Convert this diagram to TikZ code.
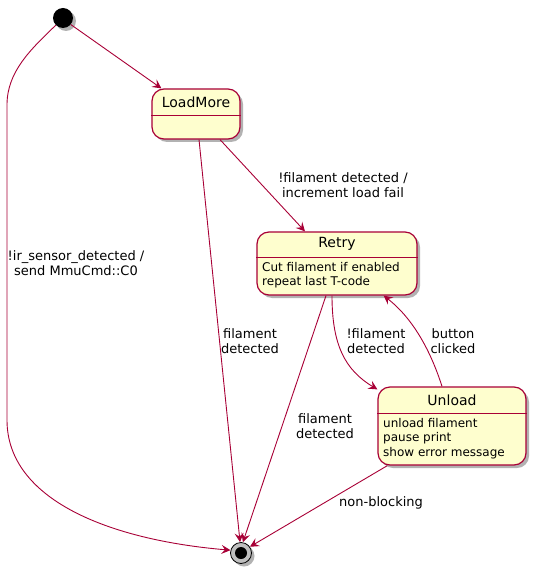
\documentclass[tikz,border=0pt]{standalone}
\usepackage{fontspec}
\setmainfont{DejaVu Sans}
\usetikzlibrary{arrows.meta,shadows,calc}
\definecolor{pred}{HTML}{A80036}
\definecolor{pfill}{HTML}{FEFECE}
\begin{document}
\begin{tikzpicture}[x=1bp,y=-1bp,
  shad/.style={drop shadow={shadow xshift=3bp,shadow yshift=-3bp,opacity=0.3,fill=black}},
  statebox/.style={draw=pred,fill=pfill,line width=1.2bp,rounded corners=12bp,shad,inner sep=0pt},
  title/.style={font=\fontsize{14bp}{16bp}\selectfont,inner sep=0pt},
  body/.style={font=\fontsize{12bp}{14.5bp}\selectfont,align=left,anchor=west,inner sep=0pt},
  lbl/.style={font=\fontsize{13bp}{14.7bp}\selectfont,align=center,inner sep=0pt},
  conn/.style={draw=pred,line width=0.9bp,-{Stealth[length=9bp,width=9bp,inset=3.5bp]}}
]
\useasboundingbox (0,0) rectangle (537,572);

% initial and final states
\node[circle,fill=black,minimum size=20bp,inner sep=0pt,shad] (st) at (63,18) {};
\node[circle,draw=black,line width=0.8bp,fill=black!25,minimum size=21bp,inner sep=0pt,shad] (en) at (241,553) {};
\fill[black] (en.center) circle (6bp);

% LoadMore
\node[statebox,minimum width=88bp,minimum height=50bp] (lm) at (196,114) {};
\coordinate (s1) at (0,115);
\coordinate (s1b) at (0,116.2);
\fill[pred] (lm.west |- s1) rectangle (lm.east |- s1b);
\node[title] (lmt) at (196,102) {LoadMore};

% Retry
\node[statebox,minimum width=160bp,minimum height=63bp] (re) at (337,263.5) {};
\coordinate (s2) at (0,257);
\coordinate (s2b) at (0,258.2);
\fill[pred] (re.west |- s2) rectangle (re.east |- s2b);
\node[title] (ret) at (337,244) {Retry};
\node[body] (reb) at (262,275) {Cut filament if enabled\\repeat last T-code};

% Unload
\node[statebox,minimum width=148bp,minimum height=78bp] (un) at (452,426) {};
\coordinate (s3) at (0,413);
\coordinate (s3b) at (0,414.2);
\fill[pred] (un.west |- s3) rectangle (un.east |- s3b);
\node[title] (unt) at (452,400) {Unload};
\node[body] (unb) at (383,438.5) {unload filament\\pause print\\show error message};

% transitions
\draw[conn] (st.-40) -- ([xshift=10bp]lm.north west);
\draw[conn] (st.-135) .. controls (30,50) and (7,72) .. (7,105) -- (7,420)
  .. controls (7,500) and (110,540) .. (en.165);
\draw[conn] ([xshift=3bp]lm.south) -- (en.95);
\draw[conn] ([xshift=24bp]lm.south) -- ([xshift=-32bp]re.north);
\draw[conn] ([xshift=-11bp]re.south) -- (en.80);
\draw[conn] ([xshift=-5bp]re.south) .. controls (332,345) and (345,370) .. ([yshift=-3bp]un.north west);
\draw[conn] ([xshift=-10bp]un.north) .. controls (432,355) and (415,320) .. ([xshift=-34bp]re.south east);
\draw[conn] ([xshift=10bp]un.south west) -- (en.35);

% labels
\node[lbl] (l1) at (76,263) {!ir\_sensor\_detected /\\send MmuCmd::C0};
\node[lbl] (l2) at (343,185) {!filament detected /\\increment load fail};
\node[lbl] (l3) at (250,341) {filament\\detected};
\node[lbl] (l4) at (376,341) {!filament\\detected};
\node[lbl] (l5) at (453,341) {button\\clicked};
\node[lbl] (l6) at (325,426) {filament\\detected};
\node[lbl] (l7) at (381,503) {non-blocking};
\end{tikzpicture}
\end{document}
